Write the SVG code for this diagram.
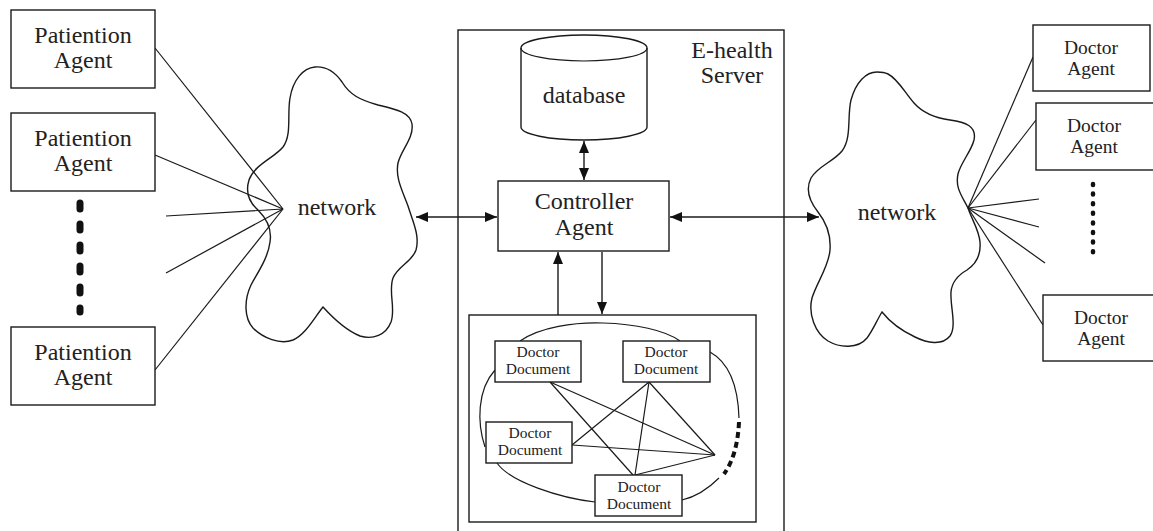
<svg xmlns="http://www.w3.org/2000/svg" width="1153" height="531" viewBox="0 0 1153 531">
<style>
.bx{fill:#fff;stroke:#1a1a1a;stroke-width:1.4}
.ln{fill:none;stroke:#1a1a1a;stroke-width:1.2}
.cl{fill:none;stroke:#1a1a1a;stroke-width:1.4}
.t{font-family:"Liberation Serif","Times New Roman",serif;fill:#222;text-anchor:middle}
.t24{font-size:24px}
.t19{font-size:19.5px}
.t15{font-size:15.5px}
.ar{fill:none;stroke:#1a1a1a;stroke-width:1.4;marker-end:url(#ah)}
.ar2{fill:none;stroke:#1a1a1a;stroke-width:1.4;marker-start:url(#ah);marker-end:url(#ah)}
</style>
<defs>
<marker id="ah" viewBox="0 0 12 10" refX="12" refY="5" markerWidth="12" markerHeight="10" markerUnits="userSpaceOnUse" orient="auto-start-reverse">
<path d="M0,0 L12,5 L0,10 z" fill="#111"/>
</marker>
</defs>
<rect width="1153" height="531" fill="#fff"/>

<g id="server">
<rect class="bx" x="458" y="30" width="326" height="510" fill="none"/>
<text class="t t24" x="732" y="58">E-health</text>
<text class="t t24" x="732" y="83">Server</text>
</g>

<g id="connectors">
<line class="ln" x1="155" y1="48" x2="283" y2="209"/>
<line class="ln" x1="155" y1="155" x2="283" y2="209"/>
<line class="ln" x1="166" y1="216" x2="283" y2="209"/>
<line class="ln" x1="166" y1="273" x2="283" y2="209"/>
<line class="ln" x1="155" y1="370" x2="283" y2="209"/>
<line class="ln" x1="968" y1="208" x2="1033" y2="57"/>
<line class="ln" x1="968" y1="208" x2="1036" y2="120"/>
<line class="ln" x1="968" y1="208" x2="1039" y2="199"/>
<line class="ln" x1="968" y1="208" x2="1039" y2="227"/>
<line class="ln" x1="968" y1="208" x2="1045" y2="263"/>
<line class="ln" x1="968" y1="208" x2="1043" y2="325"/>
<line class="ar2" x1="416" y1="217" x2="497" y2="217"/>
<line class="ar2" x1="670" y1="217" x2="819" y2="217"/>
<line class="ar2" x1="584" y1="141" x2="584" y2="180"/>
<line class="ar" x1="558" y1="315" x2="558" y2="252"/>
<line class="ar" x1="602" y1="252" x2="602" y2="314"/>
<line x1="80" y1="203" x2="80" y2="312" stroke="#111" stroke-width="7" stroke-linecap="round" stroke-dasharray="6 15"/>
<line x1="1093" y1="184" x2="1093" y2="257" stroke="#111" stroke-width="4.5" stroke-linecap="round" stroke-dasharray="1 8.6"/>
</g>

<g id="network-left">
<path class="cl" d="M315,67 C303,68 293,80 290,98 C287,115 292,135 283,147 C274,158 254,165 249,180 C245,193 250,203 258,210 C268,220 272,230 270,242 C268,258 258,272 251,285 C244,300 244,318 253,328 C263,338 280,345 293,340 C306,334 314,318 323,307 C333,318 345,330 360,336 C373,340 386,335 391,322 C396,308 388,292 393,278 C398,266 412,262 416,250 C420,236 413,222 408,206 C403,192 395,178 398,163 C401,150 414,138 412,124 C410,112 395,109 378,105 C360,100 350,95 342,82 C335,72 327,66 315,67 Z"/>
<text class="t t24" x="337" y="215">network</text>
</g>

<g id="network-right">
<path class="cl" d="M877,72 C866,72 856,82 851,100 C847,116 852,138 842,151 C833,162 818,166 811,178 C805,190 810,202 818,212 C826,222 831,236 830,250 C829,266 817,282 812,298 C808,314 815,333 828,341 C840,348 858,349 867,338 C873,330 877,320 882,312 C890,322 900,330 915,337 C927,343 942,346 950,336 C957,326 950,306 951,292 C952,280 960,274 967,270 C976,264 981,254 980,242 C979,230 972,220 968,208 C962,196 955,188 958,174 C961,162 971,152 974,140 C977,126 965,122 950,120 C935,118 922,112 914,103 C905,93 898,79 888,74 C884,72 880,72 877,72 Z"/>
<text class="t t24" x="897" y="220">network</text>
</g>

<g id="patient-1">
<rect class="bx" x="11" y="10" width="144" height="78"/>
<text class="t t24" x="83" y="43">Patiention</text>
<text class="t t24" x="83" y="68">Agent</text>
</g>
<g id="patient-2">
<rect class="bx" x="11" y="113" width="144" height="78"/>
<text class="t t24" x="83" y="146">Patiention</text>
<text class="t t24" x="83" y="171">Agent</text>
</g>
<g id="patient-3">
<rect class="bx" x="11" y="327" width="144" height="78"/>
<text class="t t24" x="83" y="360">Patiention</text>
<text class="t t24" x="83" y="385">Agent</text>
</g>

<g id="database">
<path class="bx" d="M521,48 V127 A63,13 0 0 0 647,127 V48 A63,13 0 0 0 521,48 Z"/>
<path class="ln" stroke-width="1.4" d="M521,48 A63,13 0 0 0 647,48"/>
<text class="t t24" x="584" y="103">database</text>
</g>

<g id="controller">
<rect class="bx" x="498" y="181" width="171" height="70"/>
<text class="t t24" x="584" y="209">Controller</text>
<text class="t t24" x="584" y="235">Agent</text>
</g>

<g id="documents">
<rect class="bx" x="469" y="315" width="287" height="207"/>
<path class="ln" d="M520,341 C540,327 575,322 603,323 C635,324 665,330 680,341"/>
<path class="ln" d="M710,352 C728,362 738,385 739,418"/>
<path fill="none" stroke="#111" stroke-width="4" stroke-dasharray="6 4" d="M739,422 C738,442 734,460 724,474"/>
<path class="ln" d="M719,478 C708,489 695,497 682,500"/>
<path class="ln" d="M595,502 C560,498 510,482 497,463"/>
<path class="ln" d="M485,447 C477,423 477,390 495,370"/>
<line class="ln" x1="550" y1="382" x2="715" y2="455"/>
<line class="ln" x1="550" y1="382" x2="633" y2="475"/>
<line class="ln" x1="649" y1="382" x2="572" y2="445"/>
<line class="ln" x1="649" y1="382" x2="635" y2="475"/>
<line class="ln" x1="649" y1="382" x2="715" y2="455"/>
<line class="ln" x1="572" y1="445" x2="715" y2="455"/>
<line class="ln" x1="635" y1="475" x2="715" y2="455"/>
</g>

<g id="doc-1">
<rect class="bx" x="495" y="341" width="86" height="41"/>
<text class="t t15" x="538" y="357">Doctor</text>
<text class="t t15" x="538" y="374">Document</text>
</g>
<g id="doc-2">
<rect class="bx" x="623" y="341" width="87" height="41"/>
<text class="t t15" x="666" y="357">Doctor</text>
<text class="t t15" x="666" y="374">Document</text>
</g>
<g id="doc-3">
<rect class="bx" x="486" y="422" width="86" height="41"/>
<text class="t t15" x="530" y="438">Doctor</text>
<text class="t t15" x="530" y="455">Document</text>
</g>
<g id="doc-4">
<rect class="bx" x="595" y="475" width="87" height="41"/>
<text class="t t15" x="639" y="492">Doctor</text>
<text class="t t15" x="639" y="509">Document</text>
</g>

<g id="doctor-1">
<rect class="bx" x="1033" y="25" width="117" height="66"/>
<text class="t t19" x="1091" y="54">Doctor</text>
<text class="t t19" x="1091" y="75">Agent</text>
</g>
<g id="doctor-2">
<rect class="bx" x="1036" y="103" width="120" height="67"/>
<text class="t t19" x="1094" y="132">Doctor</text>
<text class="t t19" x="1094" y="153">Agent</text>
</g>
<g id="doctor-3">
<rect class="bx" x="1043" y="295" width="115" height="66"/>
<text class="t t19" x="1101" y="324">Doctor</text>
<text class="t t19" x="1101" y="345">Agent</text>
</g>
</svg>
